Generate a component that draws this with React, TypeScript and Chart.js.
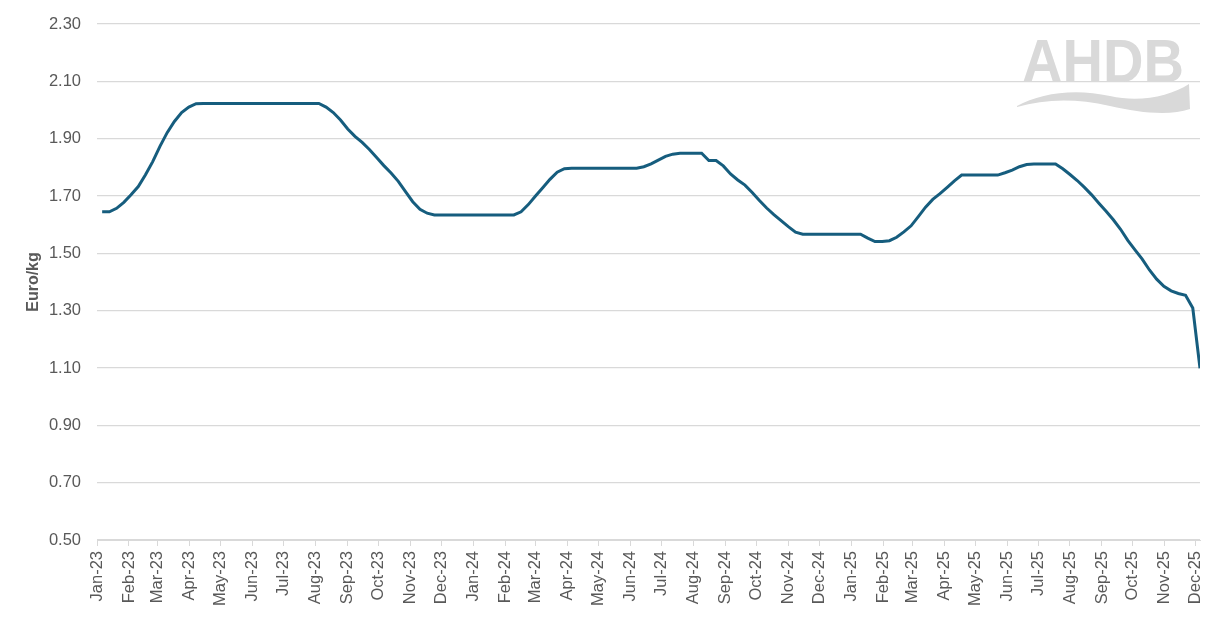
import React, { useEffect, useRef } from 'react';
import { Chart, registerables } from 'chart.js';

Chart.register(...registerables);

// Weekly price observations (Euro/kg), first week ending 6 Jan 2023
const firstWeek = '2023-01-06';
const prices = [
  1.645, 1.645, 1.657, 1.678, 1.704, 1.733, 1.774, 1.82, 1.873, 1.921,
  1.96, 1.991, 2.01, 2.022, 2.023, 2.023, 2.023, 2.023, 2.023, 2.023,
  2.023, 2.023, 2.023, 2.023, 2.023, 2.023, 2.023, 2.023, 2.023, 2.023,
  2.023, 2.01, 1.991, 1.965, 1.934, 1.908, 1.887, 1.862, 1.834, 1.806,
  1.78, 1.751, 1.715, 1.68, 1.654, 1.64, 1.634, 1.634, 1.634, 1.634,
  1.634, 1.634, 1.634, 1.634, 1.634, 1.634, 1.634, 1.634, 1.645, 1.67,
  1.7, 1.729, 1.758, 1.783, 1.795, 1.797, 1.797, 1.797, 1.797, 1.797,
  1.797, 1.797, 1.797, 1.797, 1.797, 1.802, 1.812, 1.825, 1.838, 1.846,
  1.849, 1.849, 1.849, 1.849, 1.824, 1.824, 1.805, 1.777, 1.756, 1.738,
  1.712, 1.684, 1.658, 1.635, 1.614, 1.593, 1.574, 1.567, 1.567, 1.567,
  1.567, 1.567, 1.567, 1.567, 1.567, 1.567, 1.553, 1.541, 1.541, 1.544,
  1.556, 1.575, 1.596, 1.628, 1.661, 1.688, 1.708, 1.73, 1.753, 1.773,
  1.773, 1.773, 1.773, 1.773, 1.773, 1.781, 1.79, 1.802, 1.81, 1.812,
  1.812, 1.812, 1.812, 1.795, 1.775, 1.754, 1.73, 1.704, 1.675, 1.647,
  1.617, 1.584, 1.545, 1.512, 1.48, 1.442, 1.41, 1.385, 1.369, 1.36,
  1.354, 1.309, 1.099,
];

const monthLabels = [
  'Jan-23', 'Feb-23', 'Mar-23', 'Apr-23', 'May-23', 'Jun-23', 'Jul-23', 'Aug-23', 'Sep-23', 'Oct-23', 'Nov-23', 'Dec-23',
  'Jan-24', 'Feb-24', 'Mar-24', 'Apr-24', 'May-24', 'Jun-24', 'Jul-24', 'Aug-24', 'Sep-24', 'Oct-24', 'Nov-24', 'Dec-24',
  'Jan-25', 'Feb-25', 'Mar-25', 'Apr-25', 'May-25', 'Jun-25', 'Jul-25', 'Aug-25', 'Sep-25', 'Oct-25', 'Nov-25', 'Dec-25',
];

const yTicks = [0.5, 0.7, 0.9, 1.1, 1.3, 1.5, 1.7, 1.9, 2.1, 2.3];

const MONTHS = ['Jan', 'Feb', 'Mar', 'Apr', 'May', 'Jun', 'Jul', 'Aug', 'Sep', 'Oct', 'Nov', 'Dec'];
const DAY = 86400000;
const origin = Date.UTC(2023, 0, 1);

function dayOfLabel(label: string): number {
  const [m, y] = label.split('-');
  return Math.round((Date.UTC(2000 + Number(y), MONTHS.indexOf(m), 1) - origin) / DAY);
}
function dayOfIso(iso: string): number {
  const [y, m, d] = iso.split('-').map(Number);
  return Math.round((Date.UTC(y, m - 1, d) - origin) / DAY);
}

const monthDays = monthLabels.map(dayOfLabel);
const startDay = dayOfIso(firstWeek);
const points = prices.map((v, i) => ({ x: startDay + 7 * i, y: v }));
const lastDay = startDay + 7 * (prices.length - 1);

const FONT = "'Liberation Sans', Arial, sans-serif";
const TEXT = '#595959';
const GRID = '#d9d9d9';

const logoPlugin = {
  id: 'ahdbLogo',
  beforeDatasetsDraw(chart: any) {
    const ctx = chart.ctx;
    ctx.save();
    ctx.fillStyle = '#d9d9d9';
    ctx.font = `bold 62px ${FONT}`;
    ctx.textBaseline = 'alphabetic';
    const w = ctx.measureText('AHDB').width;
    ctx.translate(1022, 82);
    ctx.scale(162 / w, 1);
    ctx.fillText('AHDB', 0, 0);
    ctx.restore();

    ctx.save();
    ctx.fillStyle = '#d9d9d9';
    ctx.beginPath();
    ctx.moveTo(1017, 106);
    ctx.bezierCurveTo(1040, 93, 1075, 88, 1110, 96);
    ctx.bezierCurveTo(1140, 103, 1170, 96, 1189, 84);
    ctx.lineTo(1190, 109);
    ctx.bezierCurveTo(1170, 116, 1140, 113, 1110, 106);
    ctx.bezierCurveTo(1075, 98, 1045, 99, 1017, 107);
    ctx.closePath();
    ctx.fill();
    ctx.restore();
  },
};

export default function App() {
  const ref = useRef<HTMLCanvasElement | null>(null);

  useEffect(() => {
    if (!ref.current) return;
    Chart.defaults.font.family = FONT;
    const chart = new Chart(ref.current, {
      type: 'line',
      data: {
        datasets: [
          {
            label: 'Price',
            data: points,
            borderColor: '#165d7e',
            backgroundColor: '#165d7e',
            borderWidth: 3,
            pointRadius: 0,
            tension: 0,
            fill: false,
          },
        ],
      },
      options: {
        animation: false,
        responsive: true,
        maintainAspectRatio: false,
        layout: { padding: { left: 0, right: 17, top: 24, bottom: 0 } },
        plugins: {
          legend: { display: false },
          tooltip: { enabled: false },
        },
        scales: {
          x: {
            type: 'linear',
            min: 0,
            max: lastDay,
            afterBuildTicks: (scale: any) => {
              scale.ticks = monthDays.map((v) => ({ value: v }));
            },
            afterFit: (scale: any) => {
              scale.height = 90;
              scale.paddingLeft = 0;
              scale.paddingRight = 0;
            },
            grid: {
              drawOnChartArea: false,
              drawTicks: true,
              tickLength: 6,
              color: GRID,
            },
            border: { display: true, color: GRID },
            ticks: {
              autoSkip: false,
              maxRotation: 90,
              minRotation: 90,
              padding: 5,
              color: TEXT,
              font: { size: 16.5, family: FONT },
              callback: (_v: any, i: number) => monthLabels[i],
            },
          },
          y: {
            min: 0.5,
            max: 2.3,
            afterBuildTicks: (scale: any) => {
              scale.ticks = yTicks.map((v) => ({ value: v }));
            },
            afterFit: (scale: any) => {
              scale.width = 97;
              scale.paddingTop = 0;
              scale.paddingBottom = 0;
            },
            grid: { color: GRID, drawTicks: false, lineWidth: 1.2 },
            border: { display: false },
            ticks: {
              padding: 16,
              color: TEXT,
              font: { size: 16.5, family: FONT },
              callback: (v: any) => Number(v).toFixed(2),
            },
            title: {
              display: true,
              text: 'Euro/kg',
              color: TEXT,
              font: { size: 16, weight: 'bold', family: FONT },
              padding: { top: 24, bottom: 0 },
            },
          },
        },
      },
      plugins: [logoPlugin],
    } as any);
    return () => chart.destroy();
  }, []);

  return (
    <div style={{ position: 'absolute', left: 0, top: 0, width: 1217, height: 630 }}>
      <canvas ref={ref} />
    </div>
  );
}
